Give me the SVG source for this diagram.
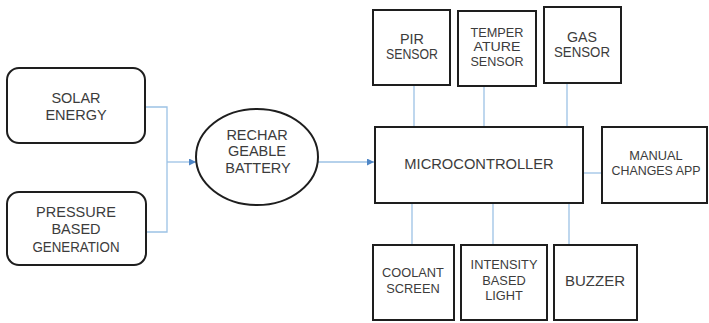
<svg xmlns="http://www.w3.org/2000/svg" width="709" height="323" viewBox="0 0 709 323">
<defs>
<style>
.box{fill:#fff;stroke:#1e1e1e;stroke-width:2}
.t{font-family:"Liberation Sans",Arial,sans-serif;fill:#3c3c3c;text-anchor:middle}
.s{font-size:14.5px}
.m{font-size:12.8px}
.c{fill:none;stroke:#9cc2e5;stroke-width:1.3}
</style>
<marker id="ah" viewBox="0 0 10 10" refX="10" refY="5" markerWidth="7" markerHeight="7" markerUnits="userSpaceOnUse" orient="auto">
<path d="M0,0 L10,5 L0,10 z" fill="#4f86c6"/>
</marker>
</defs>
<rect width="709" height="323" fill="#fff"/>
<g id="connectors">
<polyline class="c" points="145,107 167,107 167,232 146,232"/>
<line class="c" x1="167" y1="162" x2="196" y2="162" marker-end="url(#ah)"/>
<line class="c" x1="318" y1="162" x2="374" y2="162" marker-end="url(#ah)"/>
<line class="c" x1="414" y1="85" x2="414" y2="127"/>
<line class="c" x1="484" y1="86" x2="484" y2="127"/>
<line class="c" x1="567" y1="83" x2="567" y2="127"/>
<line class="c" x1="583" y1="173" x2="602" y2="173"/>
<line class="c" x1="412" y1="203" x2="412" y2="245"/>
<line class="c" x1="493" y1="203" x2="493" y2="245"/>
<line class="c" x1="569" y1="203" x2="569" y2="245"/>
</g>
<g id="solar">
<rect class="box" x="7" y="68" width="138" height="75" rx="12"/>
<text class="t s" x="76" y="103">SOLAR</text>
<text class="t s" x="76" y="120">ENERGY</text>
</g>
<g id="pressure">
<rect class="box" x="7" y="192" width="139" height="73" rx="12"/>
<text class="t s" x="76" y="217">PRESSURE</text>
<text class="t s" x="76" y="234">BASED</text>
<text class="t s" x="76" y="252" textLength="87" lengthAdjust="spacingAndGlyphs">GENERATION</text>
</g>
<g id="battery">
<ellipse class="box" cx="257" cy="157" rx="61" ry="48"/>
<text class="t s" x="257" y="140">RECHAR</text>
<text class="t s" x="257" y="156">GEABLE</text>
<text class="t s" x="258" y="173">BATTERY</text>
</g>
<g id="pir">
<rect class="box" x="373" y="10" width="77" height="75"/>
<text class="t" x="412" y="44" font-size="14.5" textLength="24" lengthAdjust="spacingAndGlyphs">PIR</text>
<text class="t" x="412" y="59" font-size="14.5" textLength="52" lengthAdjust="spacingAndGlyphs">SENSOR</text>
</g>
<g id="temperature">
<rect class="box" x="458" y="11" width="78" height="75"/>
<text class="t" x="497" y="37" font-size="13.5" textLength="53" lengthAdjust="spacingAndGlyphs">TEMPER</text>
<text class="t" x="497" y="51" font-size="13.5" textLength="47" lengthAdjust="spacingAndGlyphs">ATURE</text>
<text class="t" x="497" y="66" font-size="13.5" textLength="53" lengthAdjust="spacingAndGlyphs">SENSOR</text>
</g>
<g id="gas">
<rect class="box" x="544" y="7" width="77" height="76"/>
<text class="t" x="582" y="42" font-size="14.5" textLength="30" lengthAdjust="spacingAndGlyphs">GAS</text>
<text class="t" x="582" y="57" font-size="14.5" textLength="56" lengthAdjust="spacingAndGlyphs">SENSOR</text>
</g>
<g id="microcontroller">
<rect class="box" x="375" y="127" width="208" height="76"/>
<text class="t" x="479" y="169" font-size="14.7">MICROCONTROLLER</text>
</g>
<g id="manual">
<rect class="box" x="602" y="127" width="105" height="76"/>
<text class="t m" x="656" y="160">MANUAL</text>
<text class="t m" x="656" y="175" textLength="89" lengthAdjust="spacingAndGlyphs">CHANGES APP</text>
</g>
<g id="coolant">
<rect class="box" x="373" y="245" width="81" height="75"/>
<text class="t m" x="413" y="277">COOLANT</text>
<text class="t m" x="413" y="293">SCREEN</text>
</g>
<g id="intensity">
<rect class="box" x="461" y="245" width="86" height="75"/>
<text class="t m" x="504" y="269">INTENSITY</text>
<text class="t m" x="504" y="285">BASED</text>
<text class="t m" x="504" y="300">LIGHT</text>
</g>
<g id="buzzer">
<rect class="box" x="554" y="245" width="83" height="75"/>
<text class="t" x="595" y="286" font-size="15">BUZZER</text>
</g>
</svg>
